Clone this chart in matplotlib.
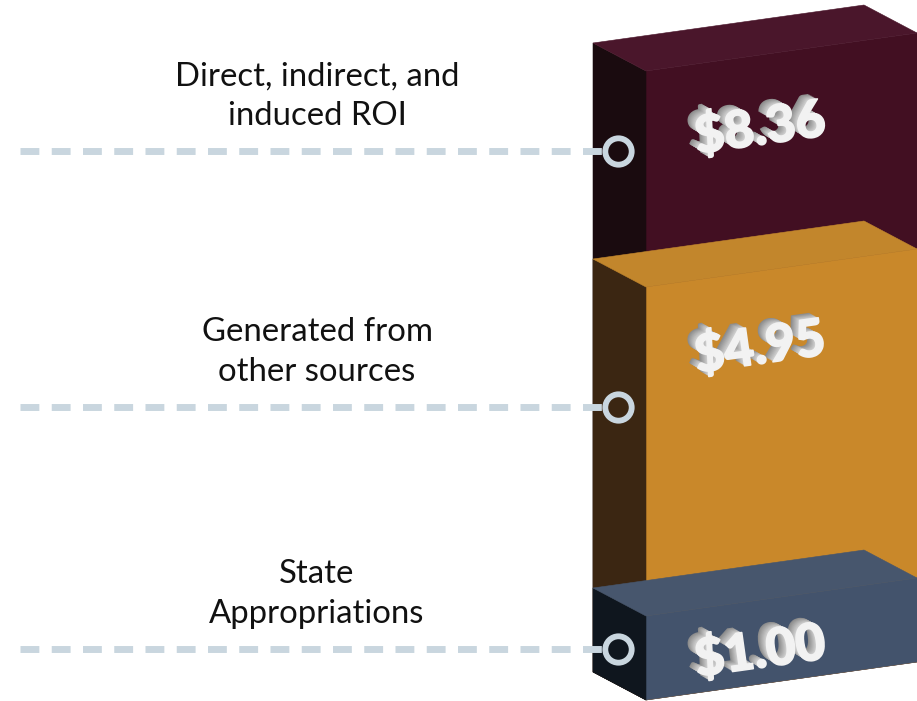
import numpy as np
import matplotlib
matplotlib.use("Agg")
import matplotlib.pyplot as plt
import matplotlib.patheffects as pe

plt.rcParams["font.family"] = ["Lato", "DejaVu Sans"]

# data, tallest block first so the lower ones overlap it
labels = ["Direct, indirect, and\ninduced ROI", "Generated from\nother sources", "State\nAppropriations"]
values = [8.36, 4.95, 1.00]
value_text = ["$8.36", "$4.95", "$1.00"]

front_cols = ["#420f22", "#c9882a", "#43536c"]
top_cols = ["#4a162b", "#c2862c", "#47566d"]
side_cols = ["#1a0b0f", "#3b2612", "#0f161e"]

# calibration of the drawing: value -> y pixel on the front left edge
scale_v = [0, 1.00, 4.95, 8.36]
scale_y = [700, 616, 287, 71]
FRONT_X = 646
RIGHT_X = 917
SLOPE = -38 / 271
DEPTH = (-53, -28)
LINE_COL = "#c9d6df"


def level(v):
    return np.interp(v, scale_v, scale_y)


def pt(x, v, depth=0):
    # oblique projection of a point on the block
    y = level(v) + (x - FRONT_X) * SLOPE
    return (x + depth * DEPTH[0], y + depth * DEPTH[1])


fig = plt.figure(figsize=(9.17, 7.01), dpi=100)
ax = fig.add_axes([0, 0, 1, 1])
ax.set_xlim(0, 917)
ax.set_ylim(701, 0)
ax.axis("off")

for v, fc, tc, sc in zip(values, front_cols, top_cols, side_cols):
    front = [pt(FRONT_X, 0), pt(RIGHT_X, 0), pt(RIGHT_X, v), pt(FRONT_X, v)]
    side = [pt(FRONT_X, 0), pt(FRONT_X, v), pt(FRONT_X, v, 1), pt(FRONT_X, 0, 1)]
    top = [pt(FRONT_X, v), pt(RIGHT_X, v), pt(RIGHT_X, v, 1), pt(FRONT_X, v, 1)]
    ax.fill(*zip(*front), facecolor=fc, edgecolor=fc, lw=0.4, zorder=1)
    ax.fill(*zip(*side), facecolor=sc, edgecolor=sc, lw=0.4, zorder=1)
    ax.fill(*zip(*top), facecolor=tc, edgecolor=tc, lw=0.4, zorder=1)

# leader lines and rings
line_y = [151, 407, 649]
for y in line_y:
    ax.plot([20, 604], [y, y], color=LINE_COL, lw=5, dashes=(19 / 7, 12.5 / 7),
            dash_capstyle="butt", zorder=2)
    ax.plot([618], [y], "o", ms=19, mfc="none", mec=LINE_COL, mew=4.2, zorder=3)

# category labels
label_y = [96, 352, 594]
for lab, y in zip(labels, label_y):
    ax.text(317, y, lab, ha="center", va="center", fontsize=23.7, color="#111111",
            linespacing=1.39, zorder=4)

# extruded value labels
shadow = []
for i in range(9, 0, -1):
    g = 0.55 + 0.035 * (9 - i)
    shadow.append(pe.SimplePatchShadow(offset=(-0.7 * i, 0.4 * i),
                                       shadow_rgbFace=(g, g, g), alpha=1, rho=1))
shadow.append(pe.Stroke(linewidth=1.2, foreground="#f2f2f2"))
shadow.append(pe.Normal())

value_y = [129, 348, 652]
for txt, y in zip(value_text, value_y):
    ax.text(760, y, txt, ha="center", va="center", fontsize=37, fontweight="black",
            color="#f2f2f2", rotation=8, rotation_mode="anchor",
            path_effects=shadow, zorder=5)

fig.savefig("out.png", dpi=100)
